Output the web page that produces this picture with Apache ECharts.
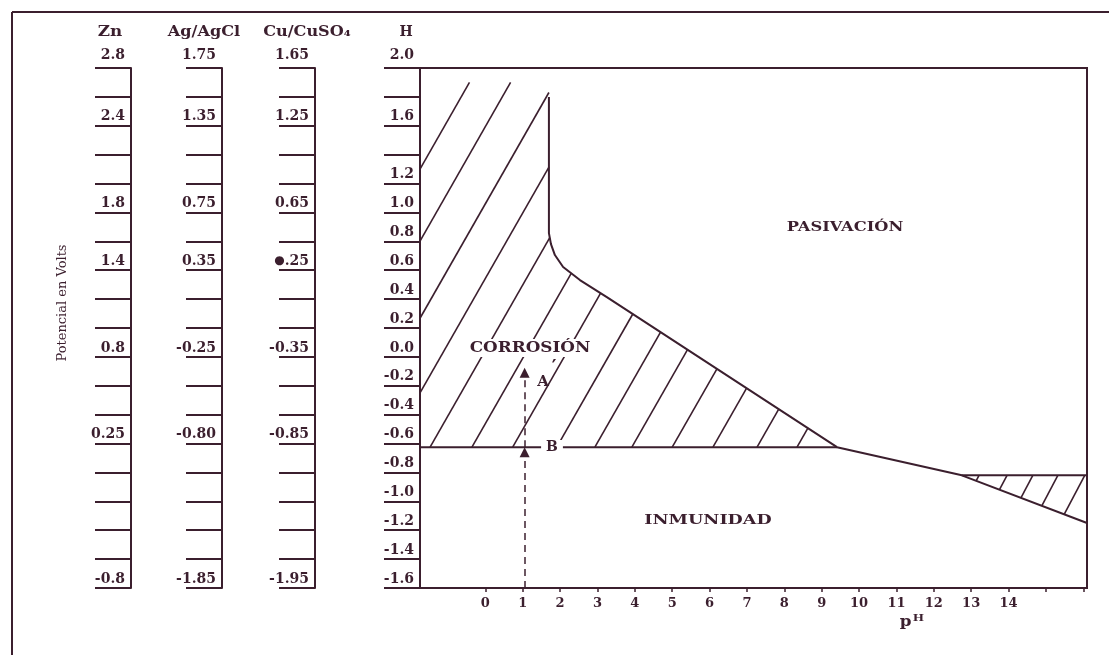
<!DOCTYPE html>
<html><head><meta charset="utf-8">
<script src="https://cdn.jsdelivr.net/npm/echarts@6/dist/echarts.min.js"></script>
<style>html,body{margin:0;padding:0;background:#fff}#c{width:1109px;height:655px}</style>
</head><body><div id="c"></div>
<script>
const INK = '#3b1f2e';
const FONT = '"DejaVu Serif", "Liberation Serif", serif';

// Potential scale (vs H electrode), ticks every 0.2 V, top to bottom
const hTicks = [2.0,1.8,1.6,1.4,1.2,1.0,0.8,0.6,0.4,0.2,0.0,-0.2,-0.4,-0.6,-0.8,-1.0,-1.2,-1.4,-1.6];
const hLabels  = ['2.0','','1.6','','1.2','1.0','0.8','0.6','0.4','0.2','0.0','-0.2','-0.4','-0.6','-0.8','-1.0','-1.2','-1.4','-1.6'];
const znLabels = ['2.8','','2.4','','','1.8','','1.4','','','0.8','','','0.25','','','','','-0.8'];
const agLabels = ['1.75','','1.35','','','0.75','','0.35','','','-0.25','','','-0.80','','','','','-1.85'];
const cuLabels = ['1.65','','1.25','','','0.65','','{d|\u25CF}.25','','','-0.35','','','-0.85','','','','','-1.95'];
const scaleNames = ['Zn','Ag/AgCl','Cu/CuSO\u2084','H'];

// pH axis
const phTicks  = [0,1,2,3,4,5,6,7,8,9,10,11,12,13,14,15,16];
const phLabels = [0,1,2,3,4,5,6,7,8,9,10,11,12,13,14];
const phMin = -1.75, phMax = 16.1;

// Boundaries [pH, E(V)]
const passivationBoundary = [[1.70,1.80],[1.70,0.857],[1.755,0.781],[1.86,0.705],[2.08,0.622],[2.53,0.532],[3.25,0.414],[9.41,-0.625],[12.75,-0.82],[16.1,-1.15]];
const immunityLine = [[phMin,-0.625],[9.41,-0.625]];
const alkalineLine = [[12.75,-0.82],[16.1,-0.82]];

// Hatched regions (polygons) and hatch line start points on their horizontal edge
const corrosionRegion = [[phMin,-0.625],[9.41,-0.625],[3.25,0.414],[2.53,0.532],[2.08,0.622],[1.86,0.705],[1.755,0.781],[1.70,0.857],[1.70,1.90],[phMin,1.90]];
const corrosionHatchPH = [-6.0,-4.9,-3.72,-2.58,-1.48,-0.36,0.73,1.91,2.93,3.92,5.0,6.09,7.27,8.34];
const corrosionHatchE = -0.625, corrosionHatchSlope = 0.453;
const alkRegion = [[12.75,-0.82],[16.1,-0.82],[16.1,-1.15]];
const alkHatchPH = [13.21,13.96,14.65,15.32,16.04];
const alkHatchE = -0.82, alkHatchSlope = 0.49;

// Path A-B at pH 1
const pathPH = 1.05;
const pathLower = [-1.6,-0.66];
const pathUpper = [-0.625,-0.11];

function clipLine(poly, p0, e0, s){
  const f = q => q[1] - e0 - s*(q[0]-p0);
  const xs = [];
  for (let i=0;i<poly.length;i++){
    const a = poly[i], b = poly[(i+1)%poly.length];
    const fa = f(a), fb = f(b);
    if ((fa>0)!==(fb>0)){ const t = fa/(fa-fb); xs.push(a[0]+t*(b[0]-a[0])); }
  }
  xs.sort((u,v)=>u-v);
  const segs = [];
  for (let i=0;i+1<xs.length;i+=2)
    segs.push([[xs[i], e0+s*(xs[i]-p0)],[xs[i+1], e0+s*(xs[i+1]-p0)]]);
  return segs;
}
const hatchSegs = [];
corrosionHatchPH.forEach(p=>clipLine(corrosionRegion,p,corrosionHatchE,corrosionHatchSlope).forEach(s=>hatchSegs.push(s)));
alkHatchPH.forEach(p=>clipLine(alkRegion,p,alkHatchE,alkHatchSlope).forEach(s=>hatchSegs.push(s)));

function fmt(labels){
  return function(v){
    const i = Math.round((hTicks[0]-v)/0.2);
    const t = labels[i] || '';
    return (i===0 && t) ? '{top|'+t+'}' : t;
  };
}
function yAx(offset, labels){
  return {
    type:'value', min:-1.6, max:2.0, interval:0.2, position:'left', offset:offset, gridIndex:0,
    axisLine:{show:true, onZero:false, lineStyle:{color:INK,width:2}},
    axisTick:{show:true, length:36, lineStyle:{color:INK,width:2}},
    splitLine:{show:false},
    axisLabel:{show:true, margin:6, color:INK, fontFamily:FONT, fontSize:14, fontWeight:'bold',
      verticalAlign:'bottom', padding:[0,0,2,0], showMinLabel:true, showMaxLabel:true,
      formatter:fmt(labels),
      rich:{ top:{fontFamily:FONT,fontSize:14,fontWeight:'bold',color:INK,padding:[0,0,4,0]}, d:{fontSize:12,color:INK,fontFamily:FONT} }}
  };
}
function txt(x,y,text,extra,styleExtra){
  return Object.assign({type:'text', x:x, y:y, z:100, silent:true,
    style:Object.assign({text:text, fill:INK, font:'bold 14px '+FONT, align:'center', verticalAlign:'middle', textAlign:'center', textVerticalAlign:'middle'}, styleExtra||{})}, extra||{});
}

const chart = echarts.init(document.getElementById('c'), null, {renderer:'canvas'});
chart.setOption({
  animation:false,
  backgroundColor:'#fff',
  grid:{left:420, right:22, top:68, bottom:67, show:true, borderColor:INK, borderWidth:2, backgroundColor:'transparent', containLabel:false, outerBoundsMode:'none'},
  xAxis:{type:'value', min:phMin, max:phMax, position:'bottom',
    axisLine:{show:true, onZero:false, lineStyle:{color:INK,width:2}},
    axisTick:{show:true, length:4, customValues:phTicks, lineStyle:{color:INK,width:1.5}},
    axisLabel:{show:true, customValues:phLabels, margin:9, color:INK, fontFamily:FONT, fontSize:13, fontWeight:'bold'},
    splitLine:{show:false}},
  yAxis:[ yAx(0,hLabels), yAx(105,cuLabels), yAx(198,agLabels), yAx(289,znLabels) ],
  series:[
    {type:'line', data:passivationBoundary, symbol:'none', lineStyle:{color:INK,width:2}, z:5, silent:true},
    {type:'line', data:immunityLine, symbol:'none', lineStyle:{color:INK,width:2}, z:5, silent:true},
    {type:'line', data:alkalineLine, symbol:'none', lineStyle:{color:INK,width:2}, z:5, silent:true},
    {type:'lines', coordinateSystem:'cartesian2d', data:hatchSegs.map(s=>({coords:s})),
      lineStyle:{color:INK,width:1.6,opacity:1,curveness:0}, z:3, silent:true},
    {type:'lines', coordinateSystem:'cartesian2d',
      data:[{coords:[[pathPH,pathLower[0]],[pathPH,pathLower[1]]]},{coords:[[pathPH,pathUpper[0]],[pathPH,pathUpper[1]]]}],
      symbol:['none','triangle'], symbolSize:10,
      lineStyle:{color:INK,width:1.5,opacity:1,type:[7,5]}, itemStyle:{color:INK}, z:6, silent:true}
  ],
  graphic:[
    {type:'line', z:100, silent:true, shape:{x1:12,y1:12,x2:12,y2:655}, style:{stroke:INK,lineWidth:2}},
    {type:'line', z:100, silent:true, shape:{x1:12,y1:12,x2:1109,y2:12}, style:{stroke:INK,lineWidth:2}},
    txt(110,32,scaleNames[0],{scaleX:1.2}),
    txt(204,32,scaleNames[1],{scaleX:1.15}),
    txt(307,32,scaleNames[2],{scaleX:1.15}),
    txt(406,32,scaleNames[3],{scaleX:1.0}),
    txt(63,303,'Potencial en Volts',{rotation:Math.PI/2},{font:'13px '+FONT}),
    txt(845,228,'PASIVACI\u00D3N',{scaleX:1.25},{font:'bold 13px '+FONT}),
    txt(530,348,'CORROSI\u00D3N',{scaleX:1.2},{font:'bold 14px '+FONT, backgroundColor:'#fff', padding:[2,4]}),
    txt(708,521,'INMUNIDAD',{scaleX:1.35},{font:'bold 13px '+FONT}),
    txt(543,382,'A',{},{font:'bold 15px '+FONT}),
    txt(554,368,'\u2032',{},{font:'bold 18px '+FONT}),
    txt(552,447,'B',{},{font:'bold 14px '+FONT, backgroundColor:'#fff', padding:[0,5]}),
    txt(912,622,'p{h|H}',{scaleX:1.2},{font:'bold 14px '+FONT, rich:{h:{fontSize:10, fontWeight:'bold', fontFamily:FONT, fill:INK, padding:[0,0,8,1]}}})
  ]
});
</script></body></html>
